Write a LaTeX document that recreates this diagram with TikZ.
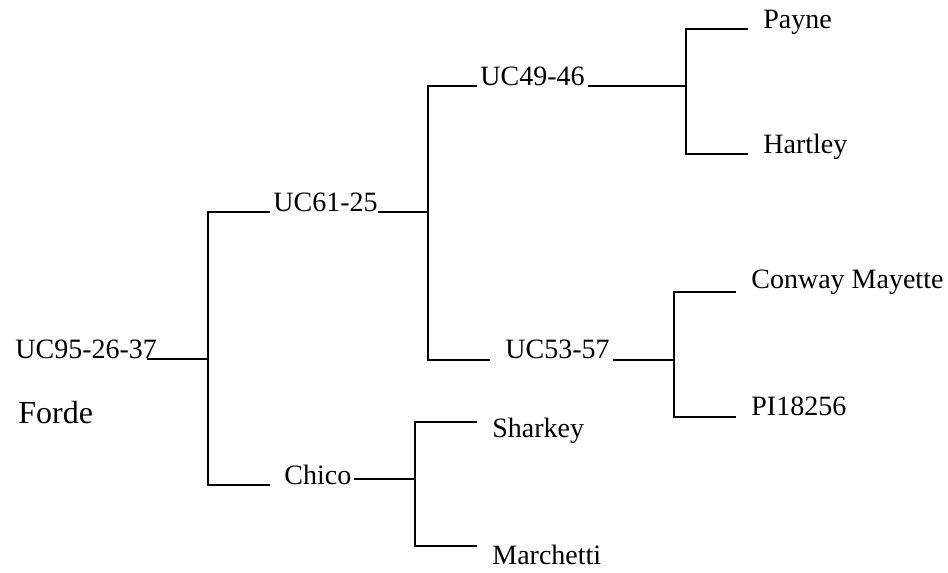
\documentclass[tikz,border=0pt]{standalone}
\usepackage{fontspec}
\setmainfont{Liberation Serif}
\begin{document}
\begin{tikzpicture}[x=0.5pt,y=-0.5pt,
        taxon/.style = {anchor=base west, inner sep=0pt, font=\fontsize{14}{16}\selectfont},
        branch/.style = {draw, line width=0.7pt}]
        \useasboundingbox (0,0) rectangle (948,573);
        % labels
        \node[taxon] (root) at (15,358) {UC95-26-37};
        \node[taxon, font=\fontsize{16}{19}\selectfont] (forde) at (18,423) {Forde};
        \node[taxon] (uc61) at (273,211) {UC61-25};
        \node[taxon] (chico) at (284,484) {Chico};
        \node[taxon] (uc49) at (480,85) {UC49-46};
        \node[taxon] (uc53) at (505,358) {UC53-57};
        \node[taxon] (payne) at (763,28) {Payne};
        \node[taxon] (hartley) at (763,153) {Hartley};
        \node[taxon] (conway) at (751,288) {Conway Mayette};
        \node[taxon] (pi) at (751,415) {PI18256};
        \node[taxon] (sharkey) at (492,437) {Sharkey};
        \node[taxon] (marchetti) at (492,564) {Marchetti};
        % line ends
        \coordinate (root r) at (147,359);
        \coordinate (j1) at (208,359);
        \coordinate (uc61 l) at (270,212);
        \coordinate (uc61 r) at (378,212);
        \coordinate (chico l) at (270,485);
        \coordinate (chico r) at (354,479);
        \coordinate (j2) at (428,212);
        \coordinate (uc49 l) at (477,86);
        \coordinate (uc49 r) at (588,86);
        \coordinate (uc53 l) at (490,360);
        \coordinate (uc53 r) at (613,360);
        \coordinate (j3) at (686,86);
        \coordinate (payne l) at (748,29);
        \coordinate (hartley l) at (748,154);
        \coordinate (j4) at (674,360);
        \coordinate (conway l) at (736,292);
        \coordinate (pi l) at (736,417);
        \coordinate (j5) at (415,479);
        \coordinate (sharkey l) at (477,422);
        \coordinate (marchetti l) at (477,546);
        % tree
        \draw[branch] (root r) -- (j1);
        \draw[branch] (j1) |- (uc61 l);
        \draw[branch] (j1) |- (chico l);
        \draw[branch] (uc61 r) -- (j2);
        \draw[branch] (j2) |- (uc49 l);
        \draw[branch] (j2) |- (uc53 l);
        \draw[branch] (uc49 r) -- (j3);
        \draw[branch] (j3) |- (payne l);
        \draw[branch] (j3) |- (hartley l);
        \draw[branch] (uc53 r) -- (j4);
        \draw[branch] (j4) |- (conway l);
        \draw[branch] (j4) |- (pi l);
        \draw[branch] (chico r) -- (j5);
        \draw[branch] (j5) |- (sharkey l);
        \draw[branch] (j5) |- (marchetti l);
\end{tikzpicture}
\end{document}
